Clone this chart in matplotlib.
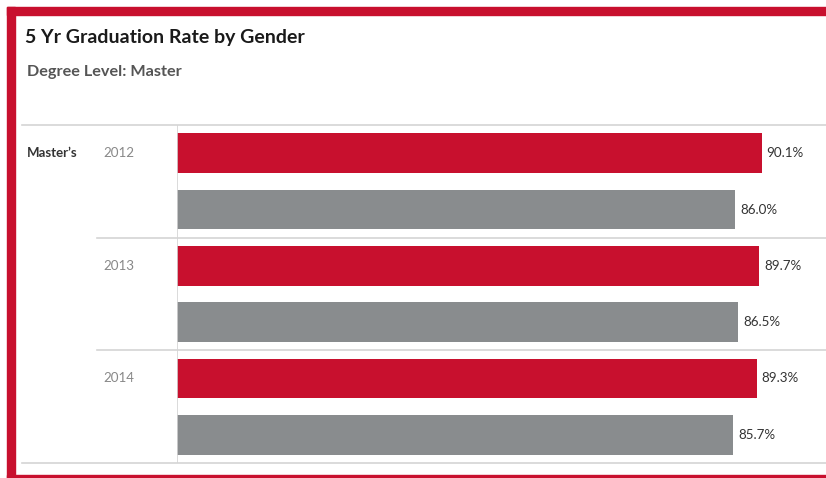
import matplotlib.pyplot as plt
from matplotlib.patches import Rectangle
import matplotlib.transforms as mtransforms

plt.rcParams['font.family'] = ['Lato', 'DejaVu Sans']

degree = "Master\u2019s"
years = ["2012", "2013", "2014"]
female = [90.1, 89.7, 89.3]
male = [86.0, 86.5, 85.7]

RED = "#C8102E"
GRAY = "#898C8E"
LINE = "#D4D4D4"

W, H = 826, 478
fig = plt.figure(figsize=(W / 100, H / 100), dpi=100)

# red frame (cut off at the right edge)
fig.patches.append(Rectangle((7 / W, 1 - 15 / H), 1, 8 / H, transform=fig.transFigure,
                             color=RED, zorder=0))
fig.patches.append(Rectangle((7 / W, 0), 8 / W, 1 - 7 / H, transform=fig.transFigure,
                             color=RED, zorder=0))
fig.patches.append(Rectangle((7 / W, 0), 1, 3 / H, transform=fig.transFigure,
                             color=RED, zorder=0))

fig.text(25 / W, 1 - 37 / H, "5 Yr Graduation Rate by Gender", fontsize=14,
         fontweight="bold", color="#1a1a1a", va="center")
fig.text(27 / W, 1 - 72 / H, "Degree Level: Master", fontsize=11.7,
         fontweight="bold", color="#555555", va="center")

ax = fig.add_axes([177 / W, 1 - 463 / H, 1 - 177 / W, (463 - 125) / H])
ax.set_xlim(0, 100)
ax.set_ylim(2 * len(years), 0)

px = 100 / 649  # data units per pixel on the value axis
bh = 0.7
for i, yr in enumerate(years):
    yf = 2 * i + 0.5
    ym = 2 * i + 1.5
    ax.barh(yf, female[i], height=bh, color=RED)
    ax.barh(ym, male[i], height=bh, color=GRAY)
    ax.text(female[i] + 5 * px, yf, f"{female[i]:.1f}%", va="center", ha="left",
            fontsize=9.6, color="#333333")
    ax.text(male[i] + 5 * px, ym, f"{male[i]:.1f}%", va="center", ha="left",
            fontsize=9.6, color="#333333")
    ax.text(-74 * px, yf, yr, va="center", ha="left", fontsize=9.6,
            color="#888888", clip_on=False)

ax.text(-150 * px, 0.5, degree, va="center", ha="left", fontsize=9.5,
        fontweight="bold", color="#333333", clip_on=False)

# header lines
trans = mtransforms.blended_transform_factory(ax.transAxes, ax.transData)
x_left = -(177 - 22) / (W - 177)
x_sep = -(177 - 97) / (W - 177)
ax.plot([x_left, 1], [0, 0], transform=trans, color=LINE, lw=1.2, clip_on=False)
ax.plot([x_left, 1], [2 * len(years), 2 * len(years)], transform=trans, color=LINE,
        lw=1.2, clip_on=False)
for k in range(1, len(years)):
    ax.plot([x_sep, 1], [2 * k, 2 * k], transform=trans, color=LINE, lw=1.2,
            clip_on=False)
ax.axvline(0, color=LINE, lw=1.2)

ax.set_xticks([])
ax.set_yticks([])
for s in ax.spines.values():
    s.set_visible(False)

fig.savefig("out.png", dpi=100)
